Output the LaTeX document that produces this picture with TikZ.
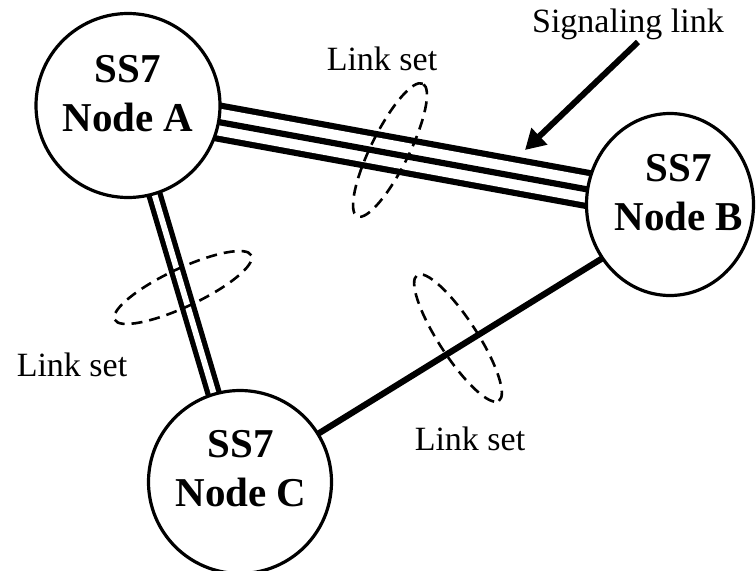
\documentclass[tikz,border=0pt]{standalone}
\usepackage{fontspec}
\setmainfont{Liberation Serif}
\usetikzlibrary{arrows.meta,backgrounds,shapes.geometric}

\begin{document}
\begin{tikzpicture}[x=1pt,y=-1pt,
  station/.style={circle,draw,line width=3.2pt,fill=white,inner sep=0pt},
  stationtext/.style={align=center,inner sep=0pt,font=\fontsize{41}{49}\selectfont\bfseries},
  caption/.style={anchor=base,inner sep=0pt,font=\fontsize{34}{40}\selectfont},
  linkset/.style={ellipse,draw,line width=2.6pt,dash pattern=on 11pt off 7pt,inner sep=0pt},
  trunk/.style={line width=6.2pt}
]
\useasboundingbox (0,0) rectangle (756,571);
\clip (0,0) rectangle (756,571);

% signalling points
\node[station,minimum size=184pt] (A) at (128,105.5) {};
\node[stationtext] (Alabel) at (128,94) {SS7\\Node A};
\node[station,ellipse,minimum width=167pt,minimum height=182pt] (B) at (670,204.5) {};
\node[stationtext] (Blabel) at (679,193) {SS7\\Node B};
\node[station,minimum size=183pt] (C) at (240,482) {};
\node[stationtext] (Clabel) at (241,469) {SS7\\Node C};

% links between the nodes, kept behind the circles
\begin{scope}[on background layer]
  \fill[white] (0,0) rectangle (756,571);
  % three links A--B
  \draw[line width=39.2pt] (A.center) -- (B.center);
  \draw[white,line width=26.8pt] (A.center) -- (B.center);
  \draw[trunk] (A.center) -- (B.center);
  % two links A--C
  \draw[double=white,double distance=5.8pt,line width=5.3pt] (A.center) -- (C.center);
  % one link B--C
  \draw[trunk] (C.center) -- ([yshift=-12pt]B.center);
\end{scope}

% link sets
\node[linkset,minimum width=148pt,minimum height=38pt,rotate=63.7] (LSab) at (390,150) {};
\node[linkset,minimum width=151pt,minimum height=38pt,rotate=25.2] (LSac) at (183,287.5) {};
\node[linkset,minimum width=150pt,minimum height=38pt,rotate=-57] (LSbc) at (458,338) {};

% captions
\node[caption] (capAB) at (382,70) {Link set};
\node[caption] (capAC) at (72,376) {Link set};
\node[caption] (capBC) at (470,450) {Link set};
\node[caption] (capSig) at (628,32) {Signaling link};

% pointer to a single signalling link
\coordinate (sigtail) at (638,42);
\coordinate (sigtip) at (525,150);
\draw[line width=6pt,-{Triangle[length=20pt,width=22pt]}] (sigtail) -- (sigtip);
\end{tikzpicture}
\end{document}
